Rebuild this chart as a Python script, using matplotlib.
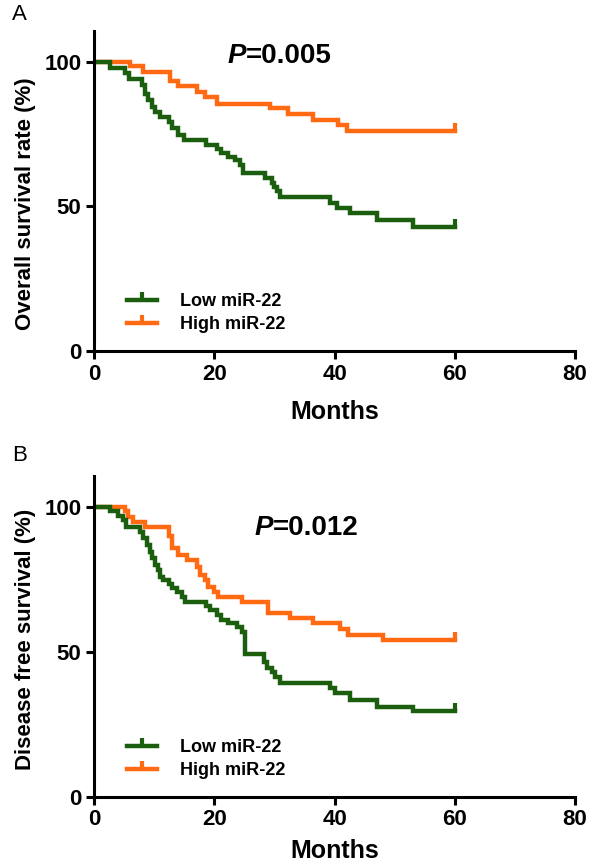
import numpy as np
import matplotlib
matplotlib.use('Agg')
import matplotlib.pyplot as plt
from matplotlib.lines import Line2D

plt.rcParams['font.family'] = ['Liberation Sans', 'DejaVu Sans']
plt.rcParams['font.weight'] = 'bold'

GREEN = '#1a5e0e'
ORANGE = '#ff6a13'

# Panel A - overall survival (step times in months, survival in %)
os_low_t = [0, 2.7, 5.2, 5.8, 7.9, 8.5, 9.0, 9.6, 10.1, 11.0, 12.4, 12.9, 14.0, 14.9,
            18.7, 20.4, 21.2, 22.3, 23.5, 24.3, 24.8, 28.5, 29.6, 29.9, 30.4, 30.9,
            39.3, 40.4, 42.6, 47.0, 53.1, 60]
os_low_s = [100, 98, 96, 94, 92, 89, 87, 84.5, 82.8, 81, 79.3, 77, 74.7, 73,
            71.3, 70, 68.4, 67.2, 66, 64.4, 61.5, 59.8, 58, 56.9, 55.2, 53.4,
            51.2, 49.5, 47.6, 45.3, 43, 43]
os_high_t = [0, 6.0, 8.2, 12.6, 14.0, 17.1, 18.5, 20.4, 29.3, 32.3, 36.5, 40.6, 42.0, 60]
os_high_s = [100, 98.5, 96.5, 93.5, 91.5, 89.5, 87.7, 85.6, 84, 82, 80, 78.2, 76.2, 76.2]

# Panel B - disease free survival
dfs_low_t = [0, 2.7, 4.0, 4.9, 5.4, 7.7, 8.2, 8.8, 9.3, 9.6, 10.1, 10.7, 11.0, 11.5,
             12.4, 12.9, 13.8, 14.6, 15.1, 18.7, 19.3, 20.4, 21.2, 22.3, 23.7, 24.6,
             25.1, 28.2, 28.7, 29.6, 30.1, 30.9, 39.3, 40.1, 42.6, 47.0, 53.1, 60]
dfs_low_s = [100, 98.5, 97, 95.5, 93, 91.5, 89.2, 86.9, 84.6, 82.3, 80, 78.3, 76, 74.8,
             73.5, 72, 70.8, 69.1, 67.4, 66, 64.5, 62.8, 61, 59.9, 58.7, 57,
             49.3, 46.5, 44.5, 43, 41.3, 39.2, 37.5, 35.8, 33.5, 31.2, 29.5, 29.5]
dfs_high_t = [0, 5.2, 5.7, 6.5, 8.5, 12.4, 12.9, 14.0, 15.4, 17.1, 17.6, 18.5, 19.0,
              19.9, 20.7, 24.6, 29.0, 32.6, 36.5, 40.9, 42.3, 48.1, 60]
dfs_high_s = [100, 98.5, 96.7, 95, 93, 90, 85.8, 83.6, 81.7, 79.4, 76.6, 74.8, 72.5,
              70.8, 69, 67.3, 63.5, 61.6, 59.9, 58, 55.9, 54, 54]

labels = ['Low miR-22', 'High miR-22']


def km_panel(ax, low_t, low_s, high_t, high_s, ylabel, ptext, px, py, label_y, xpad):
    for t, s, c in [(high_t, high_s, ORANGE), (low_t, low_s, GREEN)]:
        ax.step(t, s, where='post', color=c, lw=3.2, solid_joinstyle='miter')
        ax.plot(t[-1], s[-1], marker=2, ms=6, mew=3, color=c)

    ax.set_xlim(0, 80)
    ax.set_ylim(0, 110.7)
    ax.set_xticks([0, 20, 40, 60, 80])
    ax.set_yticks([0, 50, 100])
    for side in ['top', 'right']:
        ax.spines[side].set_visible(False)
    for side in ['left', 'bottom']:
        ax.spines[side].set_linewidth(2.2)
    ax.tick_params(width=2.2, length=6, labelsize=16, pad=3)
    ax.set_xlabel('Months', fontsize=18, fontweight='bold', labelpad=xpad)
    ax.set_ylabel(ylabel, fontsize=16, fontweight='bold')
    ax.yaxis.set_label_coords(-0.12, label_y)

    ax.text(px, py, 'P', fontsize=20, fontweight='bold', style='italic', ha='right', va='baseline')
    ax.text(px, py, ptext, fontsize=20, fontweight='bold', ha='left', va='baseline')

    handles = [Line2D([], [], color=c, lw=3.2, marker=2, ms=6, mew=3)
               for c in (GREEN, ORANGE)]
    ax.legend(handles, labels, loc='lower left', bbox_to_anchor=(0.068, 0.055),
              frameon=False, handlelength=1.65, handletextpad=1.3,
              labelspacing=0.35, borderpad=0, borderaxespad=0, numpoints=1,
              prop={'weight': 'bold', 'size': 13})


fig = plt.figure(figsize=(6, 8.68), dpi=100)
ax1 = fig.add_axes([0.1567, 0.5956, 0.8017, 0.3687])
ax2 = fig.add_axes([0.1567, 0.0818, 0.8017, 0.3698])

km_panel(ax1, os_low_t, os_low_s, os_high_t, os_high_s,
         'Overall survival rate (%)', '=0.005', 25.3, 99.6, 0.46, 11)
km_panel(ax2, dfs_low_t, dfs_low_s, dfs_high_t, dfs_high_s,
         'Disease free survival (%)', '=0.012', 29.8, 90.3, 0.49, 6)

fig.text(12 / 600, 1 - 15 / 868, 'A', fontsize=16, fontweight='normal', va='center')
fig.text(12 / 600, 1 - 456 / 868, 'B', fontsize=16, fontweight='normal', va='center')

fig.savefig('out.png', dpi=100)
